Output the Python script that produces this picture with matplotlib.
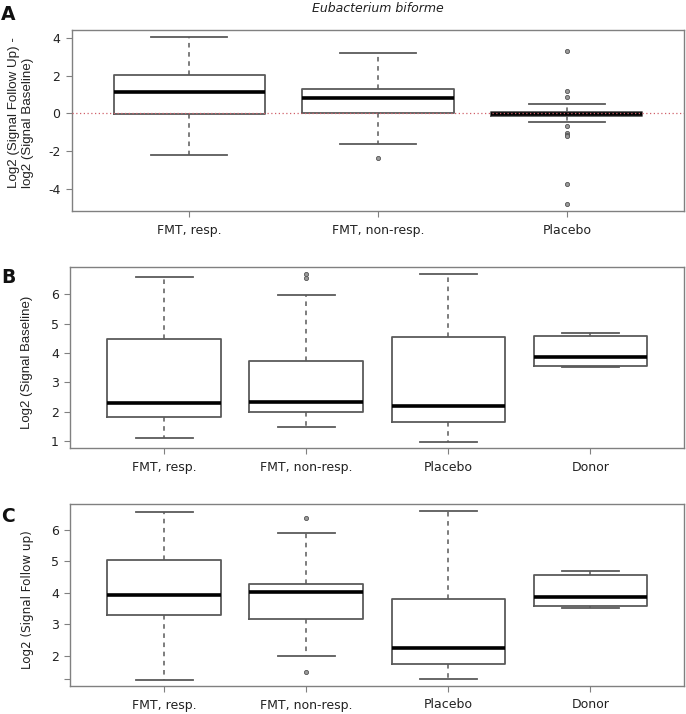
import matplotlib
matplotlib.use("Agg")
import matplotlib.pyplot as plt

plt.rcParams['font.family'] = ['DejaVu Sans']
plt.rcParams['axes.unicode_minus'] = False

# panel A: log2 fold change follow up vs baseline
groups_a = ["FMT, resp.", "FMT, non-resp.", "Placebo"]
a_whislo = [-2.21, -1.63, -0.44]
a_q1 = [-0.04, 0.0, -0.14]
a_med = [1.11, 0.83, -0.02]
a_q3 = [2.02, 1.31, 0.09]
a_whishi = [4.06, 3.22, 0.48]
a_fliers = [[], [-2.36],
            [3.30, 1.20, 0.88, -0.69, -1.06, -1.13, -1.20, -3.73, -4.81]]

# panel B: baseline signal
groups_bc = ["FMT, resp.", "FMT, non-resp.", "Placebo", "Donor"]
b_whislo = [1.12, 1.50, 0.99, 3.52]
b_q1 = [1.83, 1.98, 1.66, 3.56]
b_med = [2.29, 2.33, 2.21, 3.86]
b_q3 = [4.47, 3.73, 4.53, 4.59]
b_whishi = [6.59, 5.97, 6.69, 4.69]
b_fliers = [[], [6.67, 6.53], [], []]

# panel C: follow up signal
c_whislo = [1.25, 2.00, 1.27, 3.52]
c_q1 = [3.30, 3.16, 1.74, 3.57]
c_med = [3.93, 4.02, 2.24, 3.86]
c_q3 = [5.03, 4.27, 3.81, 4.57]
c_whishi = [6.57, 5.89, 6.59, 4.69]
c_fliers = [[], [6.38, 1.50], [], []]

EDGE = '#5a5a5a'


def make_stats(labels, lo, q1, med, q3, hi, fl):
    return [dict(label=l, whislo=a, q1=b, med=c, q3=d, whishi=e, fliers=f)
            for l, a, b, c, d, e, f in zip(labels, lo, q1, med, q3, hi, fl)]


def draw_panel(ax, stats, ylim, yticks, yticklabels=None):
    ax.bxp(stats, widths=0.8, capwidths=0.4, showfliers=True,
           boxprops=dict(color=EDGE, linewidth=1.3),
           whiskerprops=dict(color=EDGE, linewidth=1.1, linestyle=(0, (3, 3))),
           capprops=dict(color=EDGE, linewidth=1.3),
           medianprops=dict(color='black', linewidth=2.6),
           flierprops=dict(marker='o', markersize=3, markerfacecolor='#9a9a9a',
                           markeredgecolor='#555555', markeredgewidth=0.6))
    n = len(stats)
    pad = n * 0.04
    ax.set_xlim(0.5 - pad, n + 0.5 + pad)
    ax.set_ylim(*ylim)
    ax.set_yticks(yticks)
    if yticklabels is not None:
        ax.set_yticklabels(yticklabels)
    for s in ax.spines.values():
        s.set_color('#808080')
        s.set_linewidth(1.0)
    ax.tick_params(axis='x', length=4, pad=5, color='#808080', labelsize=9,
                   labelcolor='#222222')
    ax.tick_params(axis='y', length=4.3, pad=4, color='#808080', labelsize=9,
                   labelcolor='#222222')


fig = plt.figure(figsize=(6.86, 7.14), dpi=100)
W, H = 686, 714


def add_ax(left, top, right, bottom):
    return fig.add_axes([left / W, 1 - bottom / H, (right - left) / W, (bottom - top) / H])


ax_a = add_ax(72, 30, 684, 211)
draw_panel(ax_a, make_stats(groups_a, a_whislo, a_q1, a_med, a_q3, a_whishi, a_fliers),
           (-5.18, 4.42), [-4, -2, 0, 2, 4])
ax_a.axhline(0, color='#d0606a', linestyle=(0, (1, 2)), linewidth=0.9, zorder=5)

ax_b = add_ax(70.3, 267.3, 684.3, 448.3)
draw_panel(ax_b, make_stats(groups_bc, b_whislo, b_q1, b_med, b_q3, b_whishi, b_fliers),
           (0.76, 6.91), [1, 2, 3, 4, 5, 6])

ax_c = add_ax(70.3, 504.3, 684.3, 686)
draw_panel(ax_c, make_stats(groups_bc, c_whislo, c_q1, c_med, c_q3, c_whishi, c_fliers),
           (1.05, 6.80), [1.26, 2, 3, 4, 5, 6], ['', '2', '3', '4', '5', '6'])

# title and labels
fig.text(378 / W, 1 - 9 / H, "Eubacterium biforme", style='italic', fontsize=9,
         ha='center', va='center', color='#222222')
for letter, yy in [("A", 14), ("B", 278), ("C", 516)]:
    fig.text(1 / W, 1 - yy / H, letter, fontsize=13.5, fontweight='bold',
             ha='left', va='center', color='#111111')

fig.text(21 / W, 1 - 112.5 / H, "Log2 (Signal Follow Up) -\nlog2 (Signal Baseline)",
         rotation=90, ha='center', va='center', multialignment='left',
         family='Liberation Sans', fontsize=9.6, color='#222222', linespacing=1.15)
fig.text(27 / W, 1 - 362 / H, "Log2 (Signal Baseline)", rotation=90,
         ha='center', va='center', family='Liberation Sans', fontsize=9.5,
         color='#222222')
fig.text(27 / W, 1 - 600 / H, "Log2 (Signal Follow up)", rotation=90,
         ha='center', va='center', fontsize=8.6, color='#222222')

fig.savefig("out.png", dpi=100, facecolor='white')
